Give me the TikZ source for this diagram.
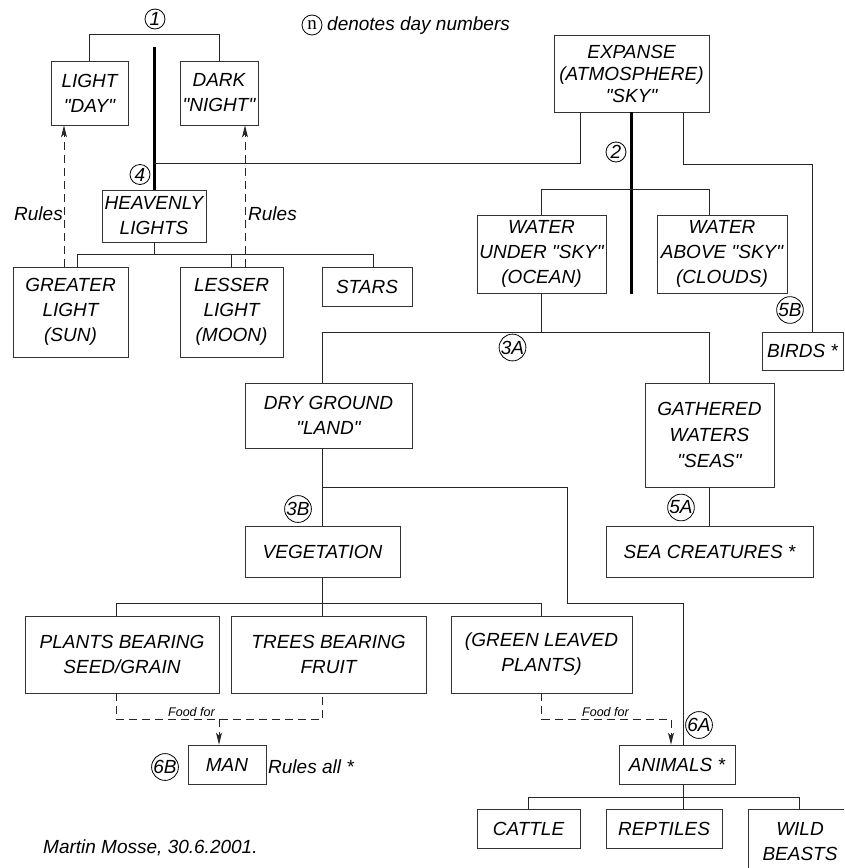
\documentclass[tikz,border=0pt]{standalone}
\usepackage{fontspec}
\setmainfont{Liberation Sans}[Ligatures=TeXOff]
\newfontfamily\nserif{Liberation Serif}
\usetikzlibrary{arrows.meta,calc}
\begin{document}
\begin{tikzpicture}[x=1pt,y=-1pt,
  box/.style={draw=black!80, line width=0.9pt, inner sep=0pt, align=center, font=\fontsize{19}{25}\selectfont\itshape},
  conn/.style={draw=black!85, line width=0.9pt},
  boldline/.style={line width=3pt, draw=black},
  dashconn/.style={draw=black!85, line width=0.9pt, dash pattern=on 8pt off 5pt},
  arr/.style={-{Stealth[length=12pt,width=6pt,inset=3pt]}},
  daynum/.style={circle, draw=black, line width=0.8pt, inner sep=0pt, minimum size=20pt, font=\fontsize{19}{19}\selectfont\itshape},
  lbl/.style={inner sep=0pt, font=\fontsize{19}{25}\selectfont\itshape},
  small/.style={inner sep=0pt, font=\fontsize{12.5}{14}\selectfont\itshape}
]
\useasboundingbox (0,0) rectangle (844,868);
\clip (0,0) rectangle (844,868);

% ---------- boxes ----------
\node[box, minimum width=77pt, minimum height=64pt] (light) at (89.5,93) {LIGHT\\"DAY"};
\node[box, minimum width=78pt, minimum height=64pt] (dark) at (219,93) {DARK\\"NIGHT"};
\node[box, minimum width=104pt, minimum height=52pt] (heavenly) at (154,216) {HEAVENLY\\LIGHTS};
\node[box, minimum width=115pt, minimum height=90pt] (greater) at (70.5,312) {GREATER\\LIGHT\\(SUN)};
\node[box, minimum width=103pt, minimum height=90pt] (lesser) at (231.5,312) {LESSER\\LIGHT\\(MOON)};
\node[box, minimum width=90pt, minimum height=39pt] (stars) at (367,286.5) {STARS};
\node[box, minimum width=155pt, minimum height=77pt, font=\fontsize{19}{22}\selectfont\itshape] (expanse) at (631.5,73.5) {EXPANSE\\(ATMOSPHERE)\\"SKY"};
\node[box, minimum width=129pt, minimum height=78pt] (ocean) at (541.5,254) {WATER\\UNDER "SKY"\\(OCEAN)};
\node[box, minimum width=130pt, minimum height=78pt] (clouds) at (722,254) {WATER\\ABOVE "SKY"\\(CLOUDS)};
\node[box, minimum width=81pt, minimum height=38pt] (birds) at (802.5,351) {BIRDS *};
\node[box, minimum width=167pt, minimum height=65pt] (dry) at (328.5,415.5) {DRY GROUND\\"LAND"};
\node[box, minimum width=129pt, minimum height=104pt, font=\fontsize{19}{26}\selectfont\itshape] (gathered) at (709.5,435) {GATHERED\\WATERS\\"SEAS"};
\node[box, minimum width=155pt, minimum height=51pt] (vegetation) at (322.5,551.5) {VEGETATION};
\node[box, minimum width=207pt, minimum height=51pt] (seacreat) at (709.5,551.5) {SEA CREATURES *};
\node[box, minimum width=194pt, minimum height=77pt] (plants) at (122,654.5) {PLANTS BEARING\\SEED/GRAIN};
\node[box, minimum width=195pt, minimum height=77pt] (trees) at (328.5,654.5) {TREES BEARING\\FRUIT};
\node[box, minimum width=181pt, minimum height=77pt] (green) at (541.5,654.5) {(GREEN LEAVED\\PLANTS)};
\node[box, minimum width=78pt, minimum height=39pt] (man) at (227,764.5) {MAN};
\node[box, minimum width=116pt, minimum height=39pt] (animals) at (677,764.5) {ANIMALS *};
\node[box, minimum width=103pt, minimum height=39pt] (cattle) at (528.5,828.5) {CATTLE};
\node[box, minimum width=116pt, minimum height=39pt] (reptiles) at (664,828.5) {REPTILES};
\node[box, minimum width=104pt, minimum height=66pt] (wild) at (800,842) {WILD\\BEASTS};

% ---------- day numbers ----------
\node[daynum] (c1) at (155,19) {1};
\node[daynum, font=\nserif\fontsize{19}{19}\selectfont] (cn) at (312,25) {n};
\node[daynum] (c4) at (140,174.5) {4};
\node[daynum] (c2) at (616,152) {2};
\node[daynum] (c3a) at (512.5,347.5) {3A};
\node[daynum] (c5b) at (790,310) {5B};
\node[daynum] (c3b) at (298,509) {3B};
\node[daynum] (c5a) at (681,507.5) {5A};
\node[daynum] (c6a) at (699,725) {6A};
\node[daynum] (c6b) at (165,767) {6B};

% ---------- labels ----------
\node[lbl, anchor=base west] (note) at (327,30) {denotes day numbers};
\node[lbl, anchor=base west] (rules1) at (14,220) {Rules};
\node[lbl, anchor=base west] (rules2) at (248,220) {Rules};
\node[small, anchor=base west] (food1) at (168,716) {Food for};
\node[small, anchor=base west] (food2) at (582,716) {Food for};
\node[lbl, anchor=base west] (rulesall) at (268,773) {Rules all *};
\node[lbl, anchor=base west] (author) at (43,853) {Martin Mosse, 30.6.2001.};

% ---------- connectors ----------
% day 1
\draw[conn] (light.north) -- ++(0,-26) -| (dark.north);
\draw[boldline] ([yshift=143pt]heavenly.north) -- (heavenly.north);
% day 4 link to expanse
\draw[conn] ([yshift=26pt]heavenly.north) -| ([xshift=-51.5pt]expanse.south);
% heavenly lights children
\draw[conn] (heavenly.south) -- ++(0,12) coordinate (hb);
\draw[conn] ([xshift=6.5pt]greater.north) |- (hb) -| ([xshift=6pt]stars.north);
\draw[conn] (lesser.north) -- (lesser.north |- hb);
% rules
\draw[dashconn, arr] ([xshift=-6.5pt]greater.north) coordinate (r1) -- (r1 |- light.south);
\draw[dashconn, arr] ([xshift=13.5pt]lesser.north) coordinate (r2) -- (r2 |- dark.south);
% day 2
\draw[boldline] (expanse.south) -- ++(0,182);
\draw[conn] (ocean.north) -- ++(0,-25) -| ([xshift=-13pt]clouds.north);
\draw[conn] ([xshift=51.5pt]expanse.south) -- ++(0,52) -| ([xshift=9.5pt]birds.north);
% day 3A
\draw[conn] (ocean.south) -- ++(0,39) coordinate (o3);
\draw[conn] ([xshift=-6.5pt]dry.north) |- (o3) -| (gathered.north);
% dry ground
\draw[conn] ([xshift=-6.5pt]dry.south) coordinate (d1) -- (d1 |- vegetation.north);
\draw[conn] ([xshift=-6.5pt,yshift=-39pt]dry.south) -- ++(245,0) -- ++(0,116) -| ([xshift=6pt]animals.north);
% seas
\draw[conn] (gathered.south) -- (gathered.south |- seacreat.north);
% vegetation children
\draw[conn] (vegetation.south) -- ++(0,26) coordinate (v1);
\draw[conn] ([xshift=-6pt]plants.north) |- (v1) -| (green.north);
\draw[conn] (v1) -- (v1 |- trees.north);
% food for
\draw[dashconn] ([xshift=-6pt]plants.south) -- ++(0,26) -| ([xshift=-6pt]trees.south);
\draw[dashconn, arr] ([xshift=-8pt,yshift=26pt]man.north) -- ([xshift=-8pt]man.north);
\draw[dashconn, arr] (green.south) -- ++(0,26) -| ([xshift=-6pt]animals.north);
% animals children
\draw[conn] ([xshift=6pt]animals.south) -- ++(0,12.5) coordinate (a1);
\draw[conn] (cattle.north) |- (a1) -| ([xshift=-1pt]wild.north);
\draw[conn] (a1) -- (a1 |- reptiles.north);
\end{tikzpicture}
\end{document}
